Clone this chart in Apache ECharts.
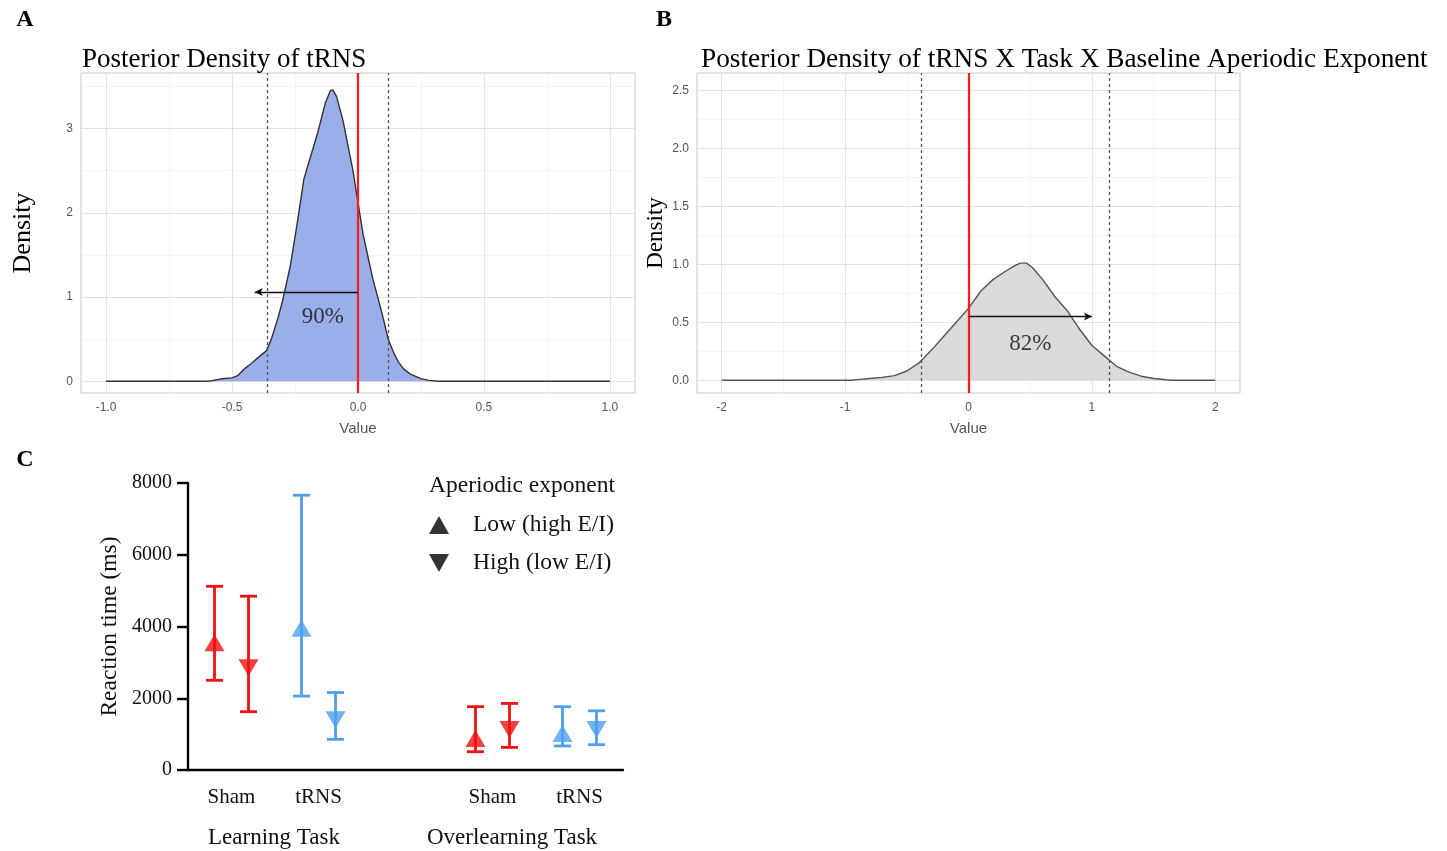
<!DOCTYPE html>
<html>
<head>
<meta charset="utf-8">
<title>Posterior densities and reaction times</title>
<script src="https://cdn.jsdelivr.net/npm/echarts@6/dist/echarts.min.js"></script>
<style>
  html, body { margin: 0; padding: 0; background: #fff; }
  #chart { width: 1447px; height: 851px; }
</style>
</head>
<body>
<div id="chart"></div>
<script>
// ---- panel A: posterior density of tRNS ----
const densA_x = [-1.0, -0.6, -0.58, -0.54, -0.5, -0.476, -0.45, -0.42, -0.397, -0.364, -0.344, -0.317,
  -0.3, -0.27, -0.24, -0.215, -0.19, -0.16, -0.13, -0.11, -0.1, -0.085, -0.06, -0.04, -0.02, 0.0,
  0.02, 0.04, 0.06, 0.08, 0.1, 0.12, 0.14, 0.16, 0.18, 0.21, 0.25, 0.28, 0.32, 1.0];
const densA_y = [0, 0, 0.005, 0.03, 0.04, 0.07, 0.15, 0.22, 0.28, 0.36, 0.5, 0.76,
  0.95, 1.35, 1.9, 2.4, 2.65, 2.95, 3.3, 3.45, 3.46, 3.38, 3.1, 2.8, 2.5, 2.12,
  1.75, 1.47, 1.2, 0.98, 0.75, 0.5, 0.35, 0.23, 0.15, 0.08, 0.03, 0.01, 0, 0];
const ciA = [-0.36, 0.12];
const arrowA = { from: 0, to: -0.41, y: 1.06 };
const noteA = { x: -0.14, y: 0.76, text: '90%' };
const xTicksA = [-1, -0.5, 0, 0.5, 1];
const xMinorA = [-0.75, -0.25, 0.25, 0.75];
const yTicksA = [0, 1, 2, 3];
const yMinorA = [0.5, 1.5, 2.5, 3.5];

// ---- panel B: posterior density of tRNS x Task x baseline exponent ----
const densB_x = [-2, -0.95, -0.9, -0.8, -0.7, -0.6, -0.5, -0.4, -0.3, -0.2, -0.1, 0,
  0.1, 0.2, 0.3, 0.38, 0.42, 0.47, 0.52, 0.6, 0.7, 0.8, 0.9, 1.0, 1.1, 1.2, 1.3, 1.4, 1.5, 1.6, 1.65, 2];
const densB_y = [0, 0, 0.005, 0.015, 0.025, 0.04, 0.08, 0.15, 0.26, 0.38, 0.5, 0.62,
  0.77, 0.87, 0.94, 0.99, 1.01, 1.01, 0.97, 0.87, 0.72, 0.6, 0.44, 0.3, 0.21, 0.12, 0.07, 0.035, 0.015, 0.004, 0, 0];
const ciB = [-0.38, 1.14];
const arrowB = { from: 0, to: 1.0, y: 0.55 };
const noteB = { x: 0.5, y: 0.31, text: '82%' };
const xTicksB = [-2, -1, 0, 1, 2];
const xMinorB = [-1.5, -0.5, 0.5, 1.5];
const yTicksB = [0, 0.5, 1, 1.5, 2, 2.5];
const yMinorB = [0.25, 0.75, 1.25, 1.75, 2.25];

// ---- panel C: reaction times ----
const slotsC = ['L-sham', 'L-trns', 'gap', 'O-sham', 'O-trns'];
const tickLabelsC = ['Sham', 'tRNS', '', 'Sham', 'tRNS'];
const stimC = ['sham', 'trns', null, 'sham', 'trns'];
const groupLabelsC = ['Learning Task', 'Overlearning Task'];
const seriesNamesC = ['Low (high E/I)', 'High (low E/I)'];
const lowMean = [3550, 3950, null, 880, 1020];
const lowLo = [2500, 2060, null, 510, 670];
const lowHi = [5120, 7660, null, 1765, 1765];
const highMean = [2850, 1400, null, 1130, 1130];
const highLo = [1625, 855, null, 630, 705];
const highHi = [4845, 2160, null, 1855, 1650];

const serif = 'Liberation Serif';
const sans = 'Liberation Sans';
const stimColor = { sham: '#f21010', trns: '#4d9ff0' };

const pairs = (xs, ys) => xs.map((x, i) => [x, ys[i]]);

function gridMarks(xs, ys, color, width) {
  const st = { color: color, width: width, type: 'solid' };
  return xs.map(v => ({ xAxis: v, lineStyle: st })).concat(ys.map(v => ({ yAxis: v, lineStyle: st })));
}

function densityAxes(idx, xTicks, yTicks, xDigits, yDigits, yName, yNameSize, yNameGap) {
  const lbl = { color: '#555', fontFamily: sans, fontSize: 12 };
  return {
    x: {
      type: 'value', gridIndex: idx,
      name: 'Value', nameLocation: 'middle', nameGap: 28,
      nameTextStyle: { color: '#555', fontFamily: sans, fontSize: 15 },
      axisLine: { show: false },
      axisTick: { show: true, customValues: xTicks, length: 3, lineStyle: { color: '#bbb' } },
      axisLabel: { customValues: xTicks, margin: 9, formatter: v => v.toFixed(xDigits), ...lbl },
      splitLine: { show: false }
    },
    y: {
      type: 'value', gridIndex: idx,
      name: yName, nameLocation: 'middle', nameGap: yNameGap,
      nameTextStyle: { color: '#000', fontFamily: serif, fontSize: yNameSize },
      axisLine: { show: false },
      axisTick: { show: true, customValues: yTicks, length: 3, lineStyle: { color: '#bbb' } },
      axisLabel: { customValues: yTicks, margin: 8, formatter: v => v.toFixed(yDigits), ...lbl },
      splitLine: { show: false }
    }
  };
}

const axA = densityAxes(0, xTicksA, yTicksA, 1, 0, 'Density', 26, 45);
axA.x.min = -1.1; axA.x.max = 1.1; axA.y.min = -0.14; axA.y.max = 3.66;
const axB = densityAxes(1, xTicksB, yTicksB, 0, 1, 'Density', 23, 30);
axB.x.min = -2.2; axB.x.max = 2.2; axB.y.min = -0.11; axB.y.max = 2.65;

function densitySeries(idx, data, fill, stroke, ci, arrow, note, grid) {
  const dashed = { color: '#555', width: 1.3, type: [3, 3] };
  return [
    {
      // background grid lines, drawn beneath the density fill
      type: 'line', xAxisIndex: idx, yAxisIndex: idx, data: data, symbol: 'none', silent: true,
      lineStyle: { opacity: 0 }, z: 1,
      markLine: {
        silent: true, symbol: ['none', 'none'], label: { show: false }, z: 1,
        data: gridMarks(grid.xMinor, grid.yMinor, '#f1f1f1', 0.8)
          .concat(gridMarks(grid.xMajor, grid.yMajor, '#e3e3e3', 1.1))
      }
    },
    {
      type: 'line', xAxisIndex: idx, yAxisIndex: idx, data: data, symbol: 'none', z: 2,
      lineStyle: { color: stroke, width: 1.4 },
      areaStyle: { color: fill, opacity: 1 },
      markLine: {
        silent: true, symbol: ['none', 'none'], label: { show: false }, z: 6,
        data: [
          { xAxis: ci[0], lineStyle: dashed },
          { xAxis: ci[1], lineStyle: dashed },
          { xAxis: 0, lineStyle: { color: '#ff1a1a', width: 2.2, type: 'solid' } },
          [
            { coord: [arrow.from, arrow.y], symbol: 'none', lineStyle: { color: '#111', width: 1.4, type: 'solid' } },
            { coord: [arrow.to, arrow.y], symbol: 'arrow', symbolSize: [6, 8] }
          ]
        ]
      }
    },
    {
      type: 'scatter', xAxisIndex: idx, yAxisIndex: idx, data: [[note.x, note.y]],
      symbolSize: 1, itemStyle: { color: 'rgba(0,0,0,0)' }, silent: true, z: 7,
      label: { show: true, position: 'inside', formatter: note.text, color: '#111',
        fontFamily: serif, fontSize: 23 }
    }
  ];
}

function barData(lo, hi) {
  return lo.map((v, i) => v == null ? null : [i, v, hi[i]]).filter(d => d);
}
function meanData(mean) {
  return mean.map((v, i) => v == null ? null : { value: [i, v], itemStyle: { color: stimColor[stimC[i]] } })
    .filter(d => d);
}
function errorBars(offset) {
  return function (params, api) {
    const i = api.value(0);
    const lo = api.coord([i, api.value(1)]);
    const hi = api.coord([i, api.value(2)]);
    const x = lo[0] + offset;
    const half = 8.5;
    const style = { stroke: stimColor[stimC[i]], lineWidth: 2.8 };
    return {
      type: 'group',
      children: [
        { type: 'line', shape: { x1: x, y1: hi[1], x2: x, y2: lo[1] }, style: style },
        { type: 'line', shape: { x1: x - half, y1: hi[1], x2: x + half, y2: hi[1] }, style: style },
        { type: 'line', shape: { x1: x - half, y1: lo[1], x2: x + half, y2: lo[1] }, style: style }
      ]
    };
  };
}

const downTriangle = 'path://M0,0 L10,0 L5,9 Z';
const upTriangle = 'path://M5,0 L10,9 L0,9 Z';

const option = {
  backgroundColor: '#fff',
  animation: false,
  grid: [
    { left: 81, top: 73, width: 554, height: 320, show: true, borderColor: '#c9c9c9', borderWidth: 1, backgroundColor: '#fff' },
    { left: 697, top: 73, width: 543, height: 320, show: true, borderColor: '#c9c9c9', borderWidth: 1, backgroundColor: '#fff' },
    { left: 188, top: 483, width: 435, height: 287 }
  ],
  xAxis: [
    axA.x, axB.x,
    {
      type: 'category', gridIndex: 2, data: slotsC, boundaryGap: true,
      axisLine: { lineStyle: { color: '#000', width: 2.4 } },
      axisTick: { alignWithLabel: true, length: 11, lineStyle: { color: '#000', width: 2.4 } },
      axisLabel: { formatter: (v, i) => tickLabelsC[i], margin: 17, color: '#111', fontFamily: serif, fontSize: 21 },
      splitLine: { show: false }
    }
  ],
  yAxis: [
    axA.y, axB.y,
    {
      type: 'value', gridIndex: 2, min: 0, max: 8000, interval: 2000,
      name: 'Reaction time (ms)', nameLocation: 'middle', nameGap: 66,
      nameTextStyle: { color: '#111', fontFamily: serif, fontSize: 23.5 },
      axisLine: { show: true, lineStyle: { color: '#000', width: 2.4 } },
      axisTick: { show: true, length: 11, lineStyle: { color: '#000', width: 2.4 } },
      axisLabel: { margin: 16, color: '#111', fontFamily: serif, fontSize: 20, formatter: v => String(v) },
      splitLine: { show: false }
    }
  ],
  legend: {
    data: [
      { name: seriesNamesC[0], icon: upTriangle },
      { name: seriesNamesC[1], icon: downTriangle }
    ],
    orient: 'vertical', left: 424, top: 508,
    itemWidth: 58, itemHeight: 18, itemGap: 14,
    textStyle: { color: '#111', fontFamily: serif, fontSize: 23.5 },
    selectedMode: false
  },
  graphic: [
    { type: 'text', x: 25, y: 20, style: { text: 'A', fontFamily: serif, fontWeight: 'bold', fontSize: 24, fill: '#000', align: 'center', verticalAlign: 'middle' } },
    { type: 'text', x: 664, y: 20, style: { text: 'B', fontFamily: serif, fontWeight: 'bold', fontSize: 24, fill: '#000', align: 'center', verticalAlign: 'middle' } },
    { type: 'text', x: 25, y: 460, style: { text: 'C', fontFamily: serif, fontWeight: 'bold', fontSize: 24, fill: '#000', align: 'center', verticalAlign: 'middle' } },
    { type: 'text', x: 82, y: 60, style: { text: 'Posterior Density of tRNS', fontFamily: serif, fontSize: 27, fill: '#000', verticalAlign: 'middle' } },
    { type: 'text', x: 701, y: 60, style: { text: 'Posterior Density of tRNS X Task X Baseline Aperiodic Exponent', fontFamily: serif, fontSize: 27.3, fill: '#000', verticalAlign: 'middle' } },
    { type: 'text', x: 429, y: 486, style: { text: 'Aperiodic exponent', fontFamily: serif, fontSize: 23.5, fill: '#111', verticalAlign: 'middle' } },
    { type: 'text', x: 274, y: 838, style: { text: groupLabelsC[0], fontFamily: serif, fontSize: 23, fill: '#111', align: 'center', verticalAlign: 'middle' } },
    { type: 'text', x: 512, y: 838, style: { text: groupLabelsC[1], fontFamily: serif, fontSize: 23, fill: '#111', align: 'center', verticalAlign: 'middle' } }
  ],
  series: [].concat(
    densitySeries(0, pairs(densA_x, densA_y), '#9aaeea', '#333', ciA, arrowA, noteA,
      { xMajor: xTicksA, xMinor: xMinorA, yMajor: yTicksA, yMinor: yMinorA }),
    densitySeries(1, pairs(densB_x, densB_y), '#dadada', '#555', ciB, arrowB, noteB,
      { xMajor: xTicksB, xMinor: xMinorB, yMajor: yTicksB, yMinor: yMinorB }),
    [
      {
        type: 'custom', name: 'low-ci', xAxisIndex: 2, yAxisIndex: 2,
        renderItem: errorBars(-17), data: barData(lowLo, lowHi), encode: { x: 0, y: [1, 2] }, z: 2
      },
      {
        type: 'custom', name: 'high-ci', xAxisIndex: 2, yAxisIndex: 2,
        renderItem: errorBars(17), data: barData(highLo, highHi), encode: { x: 0, y: [1, 2] }, z: 2
      },
      {
        type: 'scatter', name: seriesNamesC[0], xAxisIndex: 2, yAxisIndex: 2,
        symbol: upTriangle, symbolSize: [20, 17], symbolOffset: [-17, 0],
        itemStyle: { color: '#000' }, data: meanData(lowMean), z: 3
      },
      {
        type: 'scatter', name: seriesNamesC[1], xAxisIndex: 2, yAxisIndex: 2,
        symbol: downTriangle, symbolSize: [20, 17], symbolOffset: [17, 0],
        itemStyle: { color: '#000' }, data: meanData(highMean), z: 3
      }
    ]
  )
};

const chart = echarts.init(document.getElementById('chart'));
chart.setOption(option);
</script>
</body>
</html>
